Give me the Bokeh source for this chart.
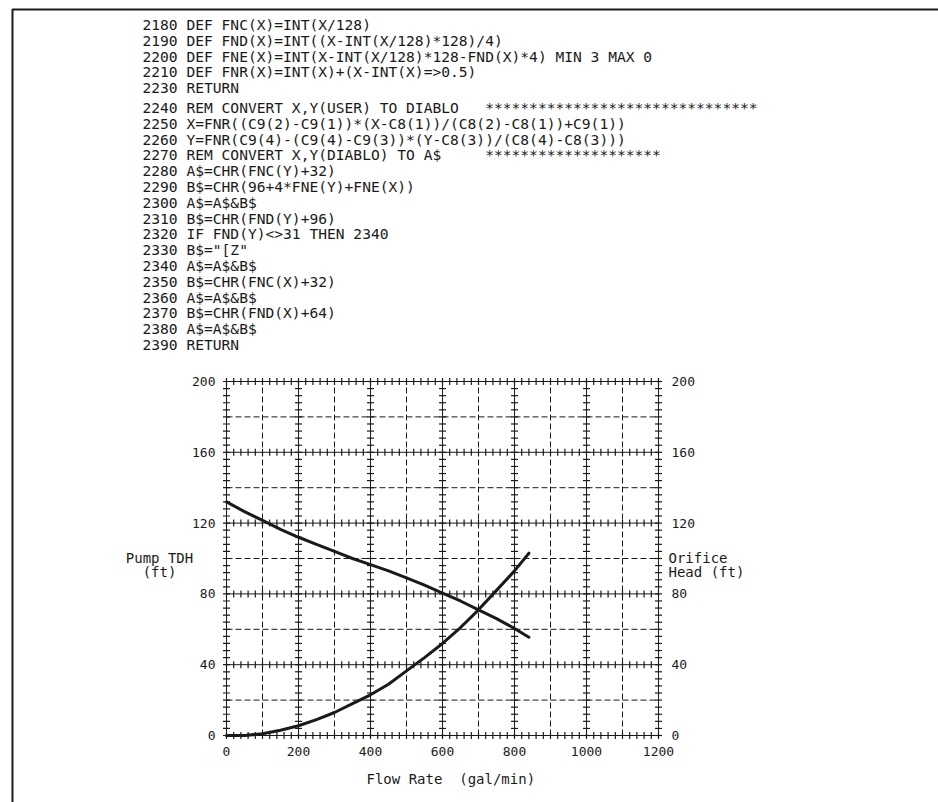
import numpy as np
from bokeh.plotting import figure
from bokeh.models import Range1d
from bokeh.core.properties import value
from bokeh.embed import file_html
from bokeh.resources import INLINE

# ---------------- data ----------------
flow_gpm = [0, 50, 100, 150, 200, 250, 300, 350, 400, 450, 500, 550, 600,
            650, 700, 750, 800, 840]
pump_tdh_ft = [132, 126.5, 121.5, 116.5, 112, 108, 104, 100, 96.5, 93, 89,
               85, 80.5, 76, 71, 66, 60.5, 55.5]
orifice_head_ft = [0, 0, 1, 3, 5.5, 9, 13, 18, 23, 29, 36.5, 44, 52, 61, 71,
                   82, 93, 103]

x_ticks = [0, 200, 400, 600, 800, 1000, 1200]
y_ticks = [0, 40, 80, 120, 160, 200]
x_half = [100, 300, 500, 700, 900, 1100]
y_half = [20, 60, 100, 140, 180]

# runs of blanks are written with a no-break space so they survive in SVG
SP = "\u00a0"

listing_top = [
    "2180 DEF FNC(X)=INT(X/128)",
    "2190 DEF FND(X)=INT((X-INT(X/128)*128)/4)",
    "2200 DEF FNE(X)=INT(X-INT(X/128)*128-FND(X)*4) MIN 3 MAX 0",
    "2210 DEF FNR(X)=INT(X)+(X-INT(X)=>0.5)",
    "2230 RETURN",
]
listing_bottom = [
    "2240 REM CONVERT X,Y(USER) TO DIABLO" + SP * 3 + "*" * 31,
    "2250 X=FNR((C9(2)-C9(1))*(X-C8(1))/(C8(2)-C8(1))+C9(1))",
    "2260 Y=FNR(C9(4)-(C9(4)-C9(3))*(Y-C8(3))/(C8(4)-C8(3)))",
    "2270 REM CONVERT X,Y(DIABLO) TO A$" + SP * 5 + "*" * 20,
    "2280 A$=CHR(FNC(Y)+32)",
    "2290 B$=CHR(96+4*FNE(Y)+FNE(X))",
    "2300 A$=A$&B$",
    "2310 B$=CHR(FND(Y)+96)",
    "2320 IF FND(Y)<>31 THEN 2340",
    "2330 B$=\"[Z\"",
    "2340 A$=A$&B$",
    "2350 B$=CHR(FNC(X)+32)",
    "2360 A$=A$&B$",
    "2370 B$=CHR(FND(X)+64)",
    "2380 A$=A$&B$",
    "2390 RETURN",
]

# ---------------- page layout (pixels, y grows downward) ----------------
W, H = 938, 802
X0_PX, X1_PX = 226, 658      # where flow 0 and 1200 sit on the page
Y0_PX, Y1_PX = 735, 381      # where head 0 and 200 sit on the page
SX = (X1_PX - X0_PX) / (x_ticks[-1] - x_ticks[0])
SY = (Y0_PX - Y1_PX) / (y_ticks[-1] - y_ticks[0])

INK = "#1a1a1a"
MONO = "DejaVu Sans Mono"

p = figure(
    width=W, height=H,
    x_range=Range1d(0, W), y_range=Range1d(H, 0),
    x_axis_type=None, y_axis_type=None,
    toolbar_location=None, output_backend="svg",
    min_border=0,
)
p.outline_line_color = None
p.background_fill_color = "white"
p.border_fill_color = "white"

# chart scales: flow (gal/min) horizontally, head (ft) vertically
p.extra_x_ranges = {"flow": Range1d(x_ticks[0] - X0_PX / SX,
                                    x_ticks[0] + (W - X0_PX) / SX)}
p.extra_y_ranges = {"head": Range1d(y_ticks[0] - (H - Y0_PX) / SY,
                                    y_ticks[0] + Y0_PX / SY)}
chart = dict(x_range_name="flow", y_range_name="head")

# ---------------- grid ----------------
p.segment(x0=x_ticks, y0=y_ticks[0], x1=x_ticks, y1=y_ticks[-1],
          line_color=INK, line_width=1, **chart)
p.segment(x0=x_ticks[0], y0=y_ticks, x1=x_ticks[-1], y1=y_ticks,
          line_color=INK, line_width=1, **chart)
p.segment(x0=x_half, y0=y_ticks[0], x1=x_half, y1=y_ticks[-1],
          line_color=INK, line_width=1, line_dash="6 3", **chart)
p.segment(x0=x_ticks[0], y0=y_half, x1=x_ticks[-1], y1=y_half,
          line_color=INK, line_width=1, line_dash="6 3", **chart)

# cross ticks every tenth of a major division along the solid lines
x_step = (x_ticks[1] - x_ticks[0]) / 10
y_step = (y_ticks[1] - y_ticks[0]) / 10
hx, hy = np.meshgrid(np.arange(x_ticks[0], x_ticks[-1] + 1, x_step), y_ticks)
p.scatter(hx.ravel(), hy.ravel(), marker="dash", angle=np.pi / 2, size=7,
          line_color=INK, line_width=1.2, **chart)
vx, vy = np.meshgrid(x_ticks, np.arange(y_ticks[0], y_ticks[-1] + 1, y_step))
p.scatter(vx.ravel(), vy.ravel(), marker="dash", size=7,
          line_color=INK, line_width=1.2, **chart)

# ---------------- curves ----------------
p.line(flow_gpm, pump_tdh_ft, line_color=INK, line_width=3,
       line_join="round", line_cap="round", **chart)
p.line(flow_gpm, orifice_head_ft, line_color=INK, line_width=3,
       line_join="round", line_cap="round", **chart)

# ---------------- tick labels ----------------
tick_style = dict(text_font=value(MONO), text_font_size=value("13px"),
                  text_color=INK, text_baseline="middle")
p.text(x=[x_ticks[0]] * len(y_ticks), y=y_ticks, text=[str(t) for t in y_ticks],
       x_offset=-11, text_align="right", **tick_style, **chart)
p.text(x=[x_ticks[-1]] * len(y_ticks), y=y_ticks, text=[str(t) for t in y_ticks],
       x_offset=13, text_align="left", **tick_style, **chart)
p.text(x=x_ticks, y=[y_ticks[0]] * len(x_ticks), text=[str(t) for t in x_ticks],
       y_offset=16, text_align="center", **tick_style, **chart)

# ---------------- axis titles (page pixels) ----------------
title_style = dict(text_font=value(MONO), text_font_size=value("14px"),
                   text_color=INK, text_baseline="middle")
p.text(x=[159, 159], y=[557, 571], text=["Pump TDH", "(ft)"],
       text_align="center", **title_style)
p.text(x=[668, 668], y=[557, 571], text=["Orifice", "Head (ft)"],
       text_align="left", **title_style)
p.text(x=[366], y=[778], text=["Flow Rate" + SP * 2 + "(gal/min)"],
       text_align="left", **title_style)

# ---------------- program listing (page pixels) ----------------
ROW0, STEP, GAP = 24, 15.8, 4
rows_y = [ROW0 + i * STEP for i in range(len(listing_top))]
start = ROW0 + len(listing_top) * STEP + GAP
rows_y += [start + i * STEP for i in range(len(listing_bottom))]
p.text(x=[142] * len(rows_y), y=rows_y, text=listing_top + listing_bottom,
       text_font=value(MONO), text_font_size=value("14.6px"),
       text_color=INK, text_align="left", text_baseline="middle")

# ---------------- page frame ----------------
p.line(x=[12, 12, W + 2], y=[H + 2, 9, 9], line_color=INK, line_width=2)

open("out.html", "w").write(file_html(p, INLINE))
